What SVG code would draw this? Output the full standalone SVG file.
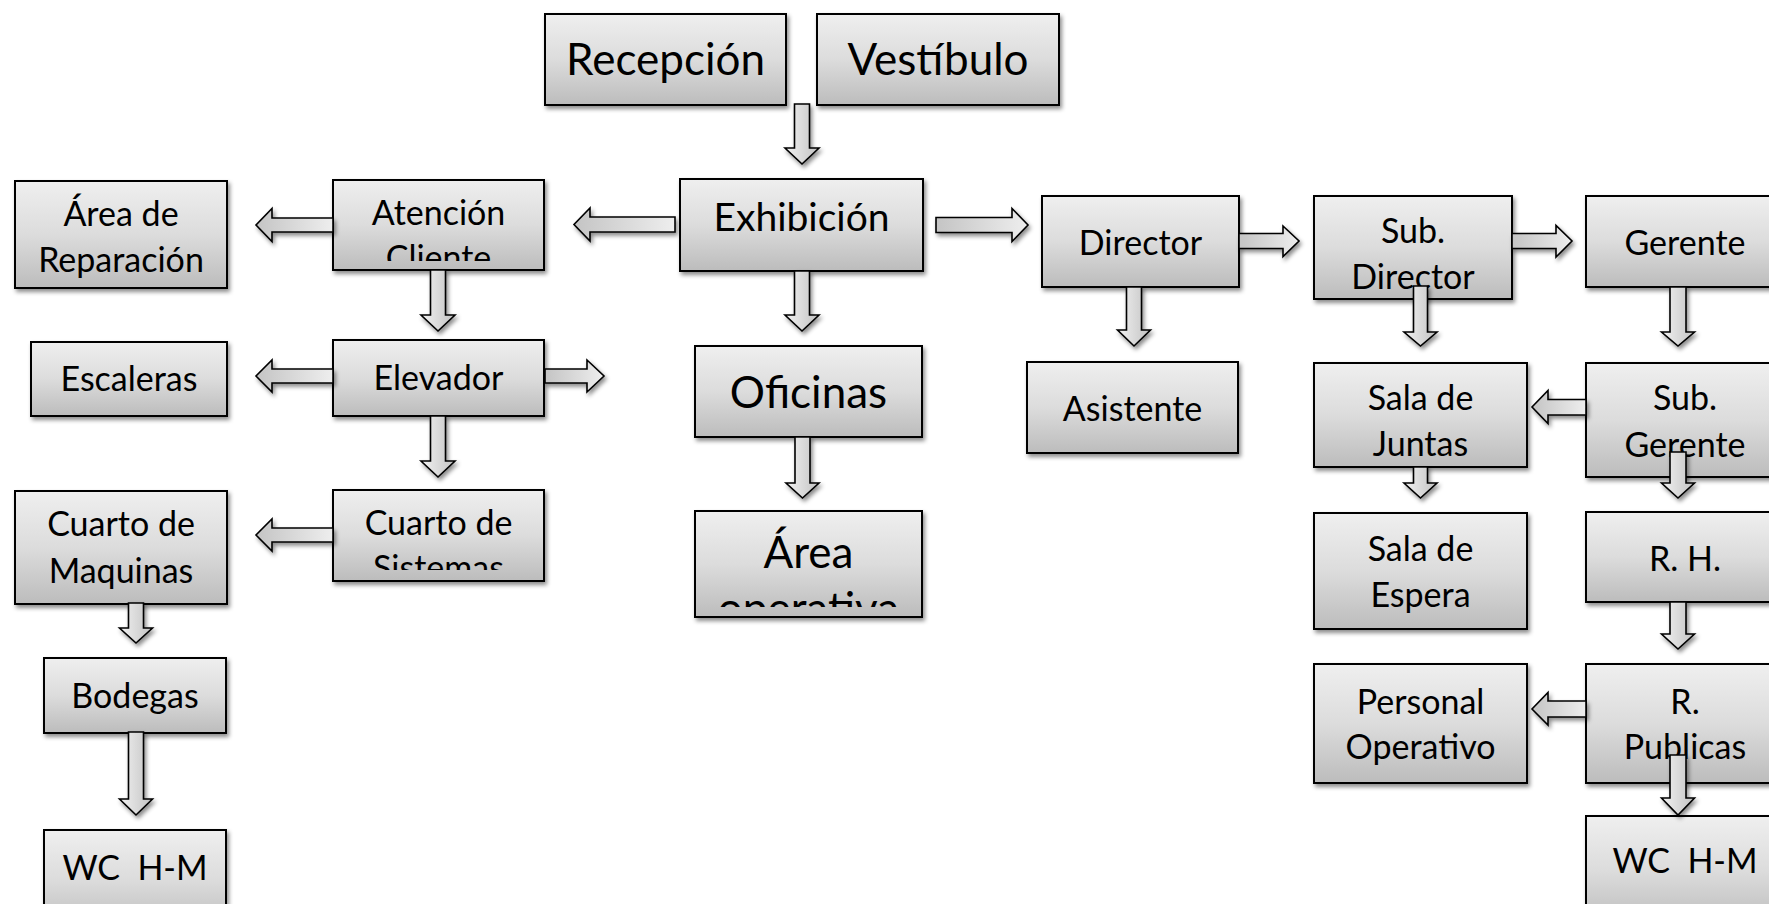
<svg xmlns="http://www.w3.org/2000/svg" width="1769" height="904" viewBox="0 0 1769 904">
<defs>
<linearGradient id="boxg" x1="0" y1="0" x2="0" y2="1">
<stop offset="0" stop-color="#efefef"/>
<stop offset="0.5" stop-color="#dcdcdc"/>
<stop offset="1" stop-color="#bcbcbc"/>
</linearGradient>
<linearGradient id="arrh" x1="0" y1="0" x2="1" y2="0">
<stop offset="0" stop-color="#c4c4c4"/>
<stop offset="1" stop-color="#eeeeee"/>
</linearGradient>
<linearGradient id="arrv" x1="0" y1="0" x2="1" y2="0">
<stop offset="0" stop-color="#f2f2f2"/>
<stop offset="1" stop-color="#c2c2c2"/>
</linearGradient>
<filter id="sh" x="-10%" y="-10%" width="130%" height="140%">
<feDropShadow dx="2" dy="3" stdDeviation="2.2" flood-color="#000" flood-opacity="0.45"/>
</filter>
<clipPath id="clipAten"><rect x="333" y="180" width="211" height="81"/></clipPath>
<clipPath id="clipSist"><rect x="333" y="490" width="211" height="80"/></clipPath>
<clipPath id="clipArea"><rect x="695" y="511" width="227" height="96"/></clipPath>
</defs>
<style>
.box{fill:url(#boxg);stroke:#000;stroke-width:2;filter:url(#sh)}
.ah{fill:url(#arrh);stroke:#000;stroke-width:1.6;stroke-linejoin:miter;filter:url(#sh)}
.av{fill:url(#arrv);stroke:#000;stroke-width:1.6;stroke-linejoin:miter;filter:url(#sh)}
text{font-family:Lato,"Liberation Sans",sans-serif;fill:#000;text-anchor:middle;white-space:pre}
.s{font-size:34px}
.l{font-size:44px}
.m{font-size:39px}
</style>
<g id="n-recepcion"><rect class="box" x="545" y="14" width="241" height="91"/><text class="l" x="665.5" y="75">Recepción</text></g>
<g id="n-vestibulo"><rect class="box" x="817" y="14" width="242" height="91"/><text class="l" x="938" y="75">Vestíbulo</text></g>
<g id="n-exhibicion"><rect class="box" x="680" y="179" width="243" height="92"/><text class="m" x="801.5" y="231">Exhibición</text></g>
<g id="n-atencion"><rect class="box" x="333" y="180" width="211" height="90"/><g clip-path="url(#clipAten)"><text class="s" x="438.5" y="225">Atención</text><text class="s" x="438.5" y="270">Cliente</text></g></g>
<g id="n-reparacion"><rect class="box" x="15" y="181" width="212" height="107"/><text class="s" x="121" y="226">Área de</text><text class="s" x="121" y="272">Reparación</text></g>
<g id="n-escaleras"><rect class="box" x="31" y="342" width="196" height="74"/><text class="s" x="129" y="391">Escaleras</text></g>
<g id="n-elevador"><rect class="box" x="333" y="340" width="211" height="76"/><text class="s" x="438.5" y="390">Elevador</text></g>
<g id="n-sistemas"><rect class="box" x="333" y="490" width="211" height="91"/><g clip-path="url(#clipSist)"><text class="s" x="438.5" y="535">Cuarto de</text><text class="s" x="438.5" y="580">Sistemas</text></g></g>
<g id="n-maquinas"><rect class="box" x="15" y="491" width="212" height="113"/><text class="s" x="121" y="536">Cuarto de</text><text class="s" x="121" y="583">Maquinas</text></g>
<g id="n-bodegas"><rect class="box" x="44" y="658" width="182" height="75"/><text class="s" x="135" y="708">Bodegas</text></g>
<g id="n-wc1"><rect class="box" x="44" y="830" width="182" height="100"/><text class="s" x="135" y="880">WC  H-M</text></g>
<g id="n-oficinas"><rect class="box" x="695" y="346" width="227" height="91"/><text class="l" x="808.5" y="408">Oficinas</text></g>
<g id="n-areaop"><rect class="box" x="695" y="511" width="227" height="106"/><g clip-path="url(#clipArea)"><text class="l" x="808.5" y="568">Área</text><text class="l" x="808.5" y="624">operativa</text></g></g>
<g id="n-director"><rect class="box" x="1042" y="196" width="197" height="91"/><text class="s" x="1140.5" y="255">Director</text></g>
<g id="n-asistente"><rect class="box" x="1027" y="362" width="211" height="91"/><text class="s" x="1132.5" y="421">Asistente</text></g>
<g id="n-subdirector"><rect class="box" x="1314" y="196" width="198" height="103"/><text class="s" x="1413" y="243">Sub.</text><text class="s" x="1413" y="289">Director</text></g>
<g id="n-gerente"><rect class="box" x="1586" y="196" width="198" height="91"/><text class="s" x="1685" y="255">Gerente</text></g>
<g id="n-salajuntas"><rect class="box" x="1314" y="363" width="213" height="104"/><text class="s" x="1420.5" y="410">Sala de</text><text class="s" x="1420.5" y="456">Juntas</text></g>
<g id="n-subgerente"><rect class="box" x="1586" y="363" width="198" height="114"/><text class="s" x="1685" y="410">Sub.</text><text class="s" x="1685" y="457">Gerente</text></g>
<g id="n-salaespera"><rect class="box" x="1314" y="513" width="213" height="116"/><text class="s" x="1420.5" y="561">Sala de</text><text class="s" x="1420.5" y="607">Espera</text></g>
<g id="n-rh"><rect class="box" x="1586" y="512" width="198" height="90"/><text class="s" x="1685" y="571">R. H.</text></g>
<g id="n-personal"><rect class="box" x="1314" y="664" width="213" height="119"/><text class="s" x="1420.5" y="714">Personal</text><text class="s" x="1420.5" y="759">Operativo</text></g>
<g id="n-rp"><rect class="box" x="1586" y="664" width="198" height="119"/><text class="s" x="1685" y="714">R.</text><text class="s" x="1685" y="759">Publicas</text></g>
<g id="n-wc2"><rect class="box" x="1586" y="816" width="198" height="110"/><text class="s" x="1685" y="873">WC  H-M</text></g>
<g id="connectors">
<path class="av" d="M794.5,104 H809.5 V148 H819 L802,164 L785,148 H794.5 Z"/>
<path class="ah" d="M675,217 V232 H590 V241 L574,224.5 L590,208 V217 Z"/>
<path class="ah" d="M936,217.5 H1012 V208.5 L1028,225 L1012,241.5 V232.5 H936 Z"/>
<path class="ah" d="M333,218 V232 H272 V241.5 L256,225 L272,208.5 V218 Z"/>
<path class="av" d="M430.5,270 H445.5 V315 H455 L438,331 L421,315 H430.5 Z"/>
<path class="ah" d="M333,369 V383 H272 V392 L256,376 L272,360 V369 Z"/>
<path class="ah" d="M545,369 H587 V360 L604,376 L587,392 V383 H545 Z"/>
<path class="av" d="M430.5,416 H445.5 V461 H455 L438,477 L421,461 H430.5 Z"/>
<path class="ah" d="M333,528 V542 H272 V551 L256,535 L272,519 V528 Z"/>
<path class="av" d="M128.5,603 H143.5 V628 H152.5 L136,643 L119.5,628 H128.5 Z"/>
<path class="av" d="M128.5,732 H143.5 V799 H152.5 L136,815 L119.5,799 H128.5 Z"/>
<path class="av" d="M794.5,271 H809.5 V315 H819 L802,331 L785,315 H794.5 Z"/>
<path class="av" d="M795,437 H810 V483 H819 L802.5,498 L786,483 H795 Z"/>
<path class="av" d="M1126.5,287 H1141.5 V330 H1150.5 L1134,346 L1117.5,330 H1126.5 Z"/>
<path class="ah" d="M1239,233.5 H1283 V226 L1299,241 L1283,256.5 V248.5 H1239 Z"/>
<path class="ah" d="M1512,233.5 H1556 V225.5 L1572,241 L1556,257 V248.5 H1512 Z"/>
<path class="av" d="M1413.5,286 H1427.5 V332 H1437 L1420.5,346 L1404,332 H1413.5 Z"/>
<path class="av" d="M1670,287 H1686 V332 H1694.5 L1678,346 L1661.5,332 H1670 Z"/>
<path class="ah" d="M1586,399.5 V415 H1548 V423.5 L1532,407 L1548,390.5 V399.5 Z"/>
<path class="av" d="M1413.5,467 H1427.5 V483 H1437 L1420.5,498 L1404,483 H1413.5 Z"/>
<path class="av" d="M1670,452 H1686 V483 H1694.5 L1678,498 L1661.5,483 H1670 Z"/>
<path class="av" d="M1670,602 H1686 V634 H1694.5 L1678,649 L1661.5,634 H1670 Z"/>
<path class="ah" d="M1586,701 V717 H1548 V725 L1532,709 L1548,692.5 V701 Z"/>
<path class="av" d="M1670,755 H1686 V798 H1694.5 L1678,815 L1661.5,798 H1670 Z"/>
</g>
</svg>
